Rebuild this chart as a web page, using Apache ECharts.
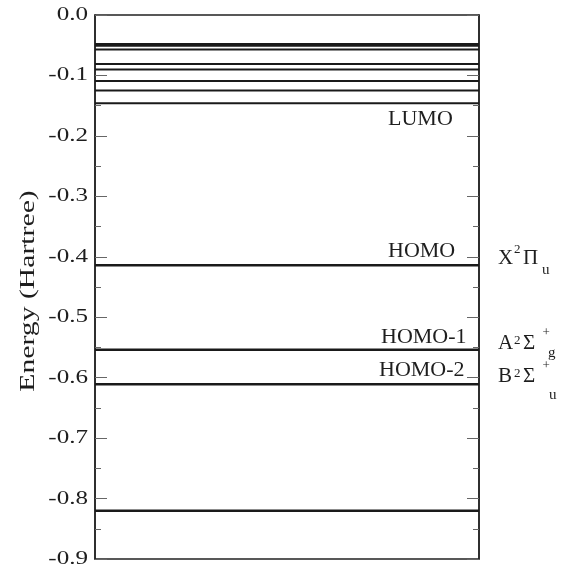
<!DOCTYPE html>
<html>
<head>
<meta charset="utf-8">
<script src="https://cdn.jsdelivr.net/npm/echarts@6/dist/echarts.min.js"></script>
<style>html,body{margin:0;padding:0;background:#fff;}#c{width:565px;height:574px;}</style>
</head>
<body>
<div id="c"></div>
<script>
// Energy levels (Hartree)
const levelEnergies = [-0.048, -0.051, -0.057, -0.081, -0.090, -0.109, -0.125, -0.146, -0.414, -0.554, -0.611, -0.820];
const orbitalNames = ['LUMO', 'HOMO', 'HOMO-1', 'HOMO-2'];
const orbitalEnergies = [-0.146, -0.414, -0.554, -0.611];
const stateLetters = ['X', 'A', 'B'];
const stateSymbols = ['Π', 'Σ', 'Σ'];
const stateSup = ['', '+', '+'];
const stateSub = ['u', 'g', 'u'];
const stateEnergies = [-0.414, -0.554, -0.611];
const yTicks = [0.0, -0.1, -0.2, -0.3, -0.4, -0.5, -0.6, -0.7, -0.8, -0.9];
const yAxisTitle = 'Energy (Hartree)';

const FONT = '"Liberation Serif", "DejaVu Serif", serif';
const INK = '#1e1e1e';
const chart = echarts.init(document.getElementById('c'));

const yAxisCommon = {
  type: 'value', min: yTicks[yTicks.length - 1], max: yTicks[0], interval: 0.1,
  splitLine: { show: false },
  axisLabel: { show: false },
  axisLine: { show: true, lineStyle: { color: '#222', width: 1.5 } },
  axisTick: { show: true, inside: true, length: 12, lineStyle: { color: '#666', width: 1 } },
  minorTick: { show: true, splitNumber: 2, length: 6, lineStyle: { color: '#666', width: 1 } }
};

chart.setOption({
  animation: false,
  grid: { left: 95, right: 86, top: 15, bottom: 15, show: true, borderColor: '#222', borderWidth: 1.5 },
  xAxis: { type: 'value', min: 0, max: 1, show: false },
  yAxis: [
    Object.assign({}, yAxisCommon, { position: 'left' }),
    Object.assign({}, yAxisCommon, { position: 'right' })
  ],
  series: levelEnergies.map((e) => ({
    type: 'line', xAxisIndex: 0, yAxisIndex: 0, symbol: 'none', silent: true,
    lineStyle: { color: '#1a1a1a', width: Math.abs(e) > 0.3 ? 2.5 : 2 },
    data: [[0, e], [1, e]]
  }))
});

const toPx = (v) => chart.convertToPixel({ xAxisIndex: 0, yAxisIndex: 0 }, [1, v])[1];
const els = [];
const txt = (x, y, text, size, extra) => els.push(Object.assign({ type: 'text', x: x, y: y,
  style: { text: text, font: size + 'px ' + FONT, fill: INK, textAlign: 'left', textVerticalAlign: 'middle' } }, extra || {}));

// Tick labels (wide serif look)
yTicks.forEach((t) => {
  els.push({ type: 'text', x: 88, y: toPx(t), scaleX: 1.32,
    style: { text: (Math.abs(t) < 1e-9 ? '0.0' : t.toFixed(1)), font: '19px ' + FONT, fill: INK,
      textAlign: 'right', textVerticalAlign: 'middle' } });
});
// Axis title
els.push({ type: 'text', x: 28, y: (toPx(yTicks[0]) + toPx(yTicks[yTicks.length - 1])) / 2 + 4,
  rotation: Math.PI / 2, scaleX: 1.35,
  style: { text: yAxisTitle, font: '22px ' + FONT, fill: INK, textAlign: 'center', textVerticalAlign: 'middle' } });

// Orbital labels
const orbitalX = [388, 388, 381, 379];
const orbitalDy = [15.6, -14, -12.8, -13.8];
orbitalNames.forEach((n, i) => txt(orbitalX[i], toPx(orbitalEnergies[i]) + orbitalDy[i], n, 22));

// Electronic state labels
const mainDy = [-7, -6.7, -8];
const twoDy = [-16, -9, -10.8];
const plusDy = [0, -17.7, -18.5];
const subX = [542, 548, 549];
const subDy = [4.8, 3.2, 10.5];
stateLetters.forEach((L, i) => {
  const y = toPx(stateEnergies[i]);
  const x0 = 498;
  txt(x0, y + mainDy[i], L, 21);
  txt(x0 + 16, y + twoDy[i], '2', 13);
  txt(x0 + 25, y + mainDy[i], stateSymbols[i], 21);
  if (stateSup[i]) txt(x0 + 44.5, y + plusDy[i], stateSup[i], 13);
  txt(subX[i], y + subDy[i], stateSub[i], 15);
});
chart.setOption({ graphic: els });
</script>
</body>
</html>
